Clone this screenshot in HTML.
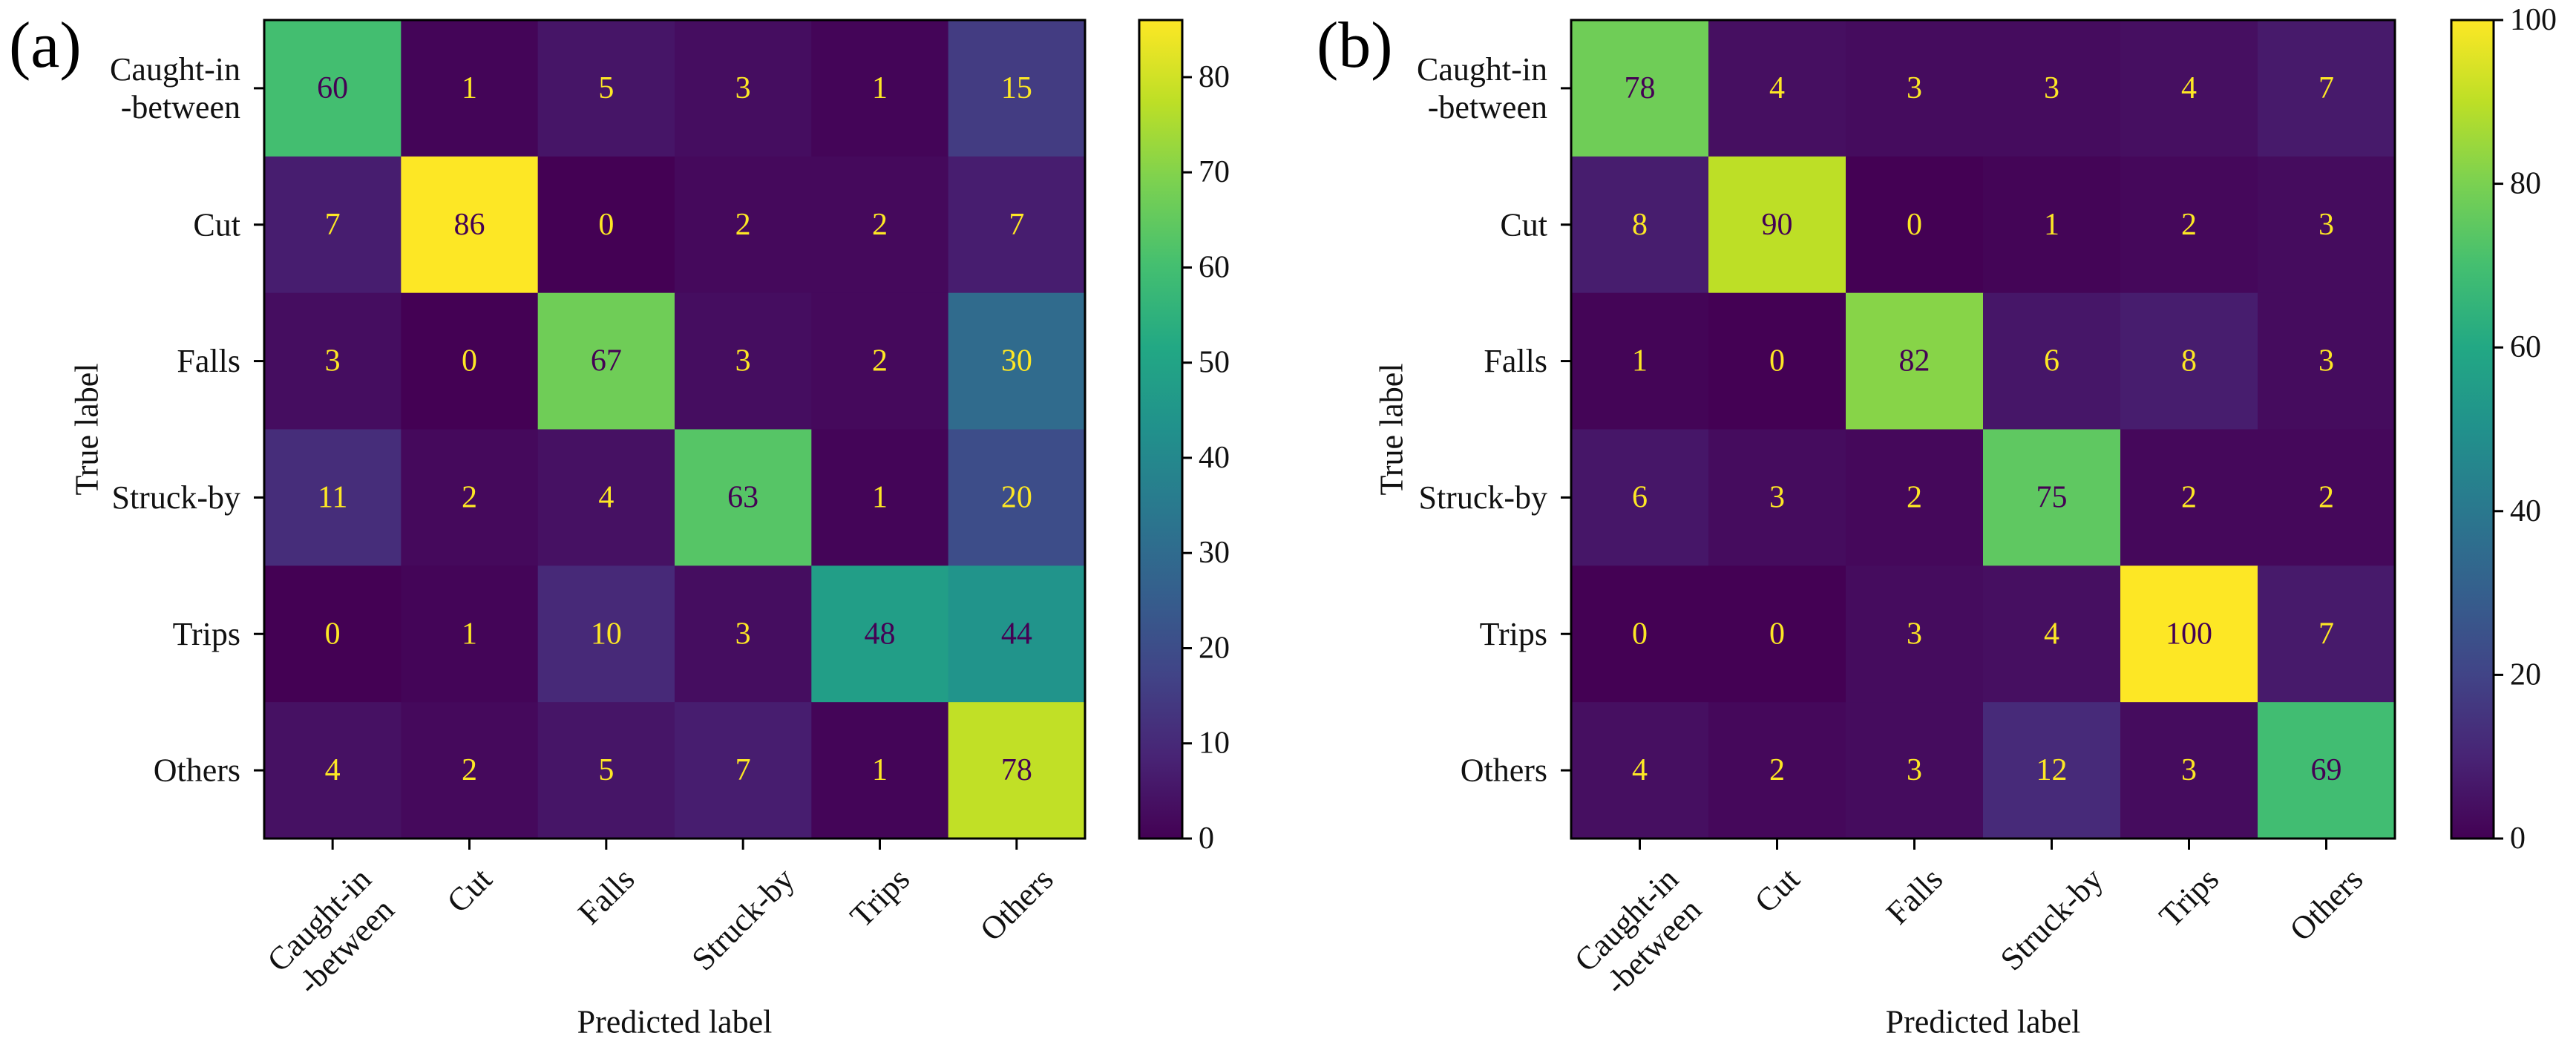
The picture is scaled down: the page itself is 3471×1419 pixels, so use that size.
<!DOCTYPE html>
<html><head><meta charset="utf-8"><style>
html,body{margin:0;padding:0;background:#fff;}
svg{display:block;}
svg text{font-family:"Liberation Serif","Times New Roman","DejaVu Serif",serif !important;}
</style></head><body>
<svg id="fig" width="3471" height="1419" viewBox="0 0 3471 1419" xmlns="http://www.w3.org/2000/svg" font-family="'Liberation Serif', serif">
<defs>
<linearGradient id="vir" x1="0" y1="1" x2="0" y2="0">
<stop offset="0" stop-color="#440154"/><stop offset="0.1" stop-color="#482475"/><stop offset="0.2" stop-color="#414487"/><stop offset="0.3" stop-color="#355f8d"/><stop offset="0.4" stop-color="#2a788e"/><stop offset="0.5" stop-color="#21918c"/><stop offset="0.6" stop-color="#22a884"/><stop offset="0.7" stop-color="#44bf70"/><stop offset="0.8" stop-color="#7ad151"/><stop offset="0.9" stop-color="#bddf26"/><stop offset="1" stop-color="#fde725"/>
</linearGradient>
</defs>
</svg>
<script>
const categories = ["Caught-in\n-between","Cut","Falls","Struck-by","Trips","Others"];
const valuesA = [[60,1,5,3,1,15],[7,86,0,2,2,7],[3,0,67,3,2,30],[11,2,4,63,1,20],[0,1,10,3,48,44],[4,2,5,7,1,78]];
const valuesB = [[78,4,3,3,4,7],[8,90,0,1,2,3],[1,0,82,6,8,3],[6,3,2,75,2,2],[0,0,3,4,100,7],[4,2,3,12,3,69]];
const colorbarTicksA = [0,10,20,30,40,50,60,70,80];
const colorbarTicksB = [0,20,40,60,80,100];

const VIR = ["#440154","#482475","#414487","#355f8d","#2a788e","#21918c","#22a884","#44bf70","#7ad151","#bddf26","#fde725"];
const FF = "'Liberation Serif', serif";
function hex(h){return [1,3,5].map(i=>parseInt(h.substr(i,2),16));}
function viridis(t){
  t=Math.max(0,Math.min(1,t));
  const p=t*10, i=Math.min(9,Math.floor(p)), f=p-i;
  const a=hex(VIR[i]), b=hex(VIR[i+1]);
  return "rgb("+a.map((v,k)=>Math.round(v+(b[k]-v)*f)).join(",")+")";
}
const NS="http://www.w3.org/2000/svg";
const svg=document.getElementById("fig");
function el(tag,attrs,parent){const e=document.createElementNS(NS,tag);for(const k in attrs)e.setAttribute(k,attrs[k]);if(tag==="text")e.setAttribute("font-family",FF);(parent||svg).appendChild(e);return e;}

function drawPanel(cfg){
  const g=el("g",{});
  
  
  const vals=cfg.values, n=categories.length;
  let vmax=0; vals.forEach(r=>r.forEach(v=>{if(v>vmax)vmax=v;}));
  const cw=(cfg.x1-cfg.x0)/n, ch=(cfg.y1-cfg.y0)/n;
  const xs=j=>cfg.x0+cw*j, ys=i=>cfg.y0+ch*i;
  for(let i=0;i<n;i++)for(let j=0;j<n;j++){
    const v=vals[i][j];
    const r=el("rect",{x:xs(j),y:ys(i),width:cw+0.6,height:ch+0.6,fill:viridis(v/vmax)},g);
    
    
    const t=el("text",{x:xs(j)+cw/2,y:ys(i)+ch/2,"text-anchor":"middle","dominant-baseline":"central","font-size":42,fill:(v>vmax/2?"#440154":"#fde725")},g);
    t.textContent=v;
    
    
  }
  el("rect",{x:cfg.x0,y:cfg.y0,width:cfg.x1-cfg.x0,height:cfg.y1-cfg.y0,fill:"none",stroke:"#000","stroke-width":3},g);
  for(let i=0;i<n;i++){
    const cy=ys(i)+ch/2;
    el("line",{x1:cfg.x0-14,x2:cfg.x0,y1:cy,y2:cy,stroke:"#000","stroke-width":3},g);
    const lines=categories[i].split("\n");
    const t=el("text",{x:cfg.ylabEnd,y:cy,"text-anchor":"end","font-size":44,fill:"#111"},g);
    
    
    lines.forEach((s,k)=>{const ts=el("tspan",{x:cfg.ylabEnd,y:cy+(k-(lines.length-1)/2)*51,"dominant-baseline":"central"},t);ts.textContent=s;});
  }
  for(let j=0;j<n;j++){
    const cx=xs(j)+cw/2;
    el("line",{x1:cx,x2:cx,y1:cfg.y1,y2:cfg.y1+15,stroke:"#000","stroke-width":3},g);
    const lines=categories[j].split("\n");
    const grp=el("g",{},g);
    
    
    const t=el("text",{x:0,y:0,"text-anchor":"middle","font-size":44,fill:"#111"},grp);
    lines.forEach((s,k)=>{const ts=el("tspan",{x:0,y:(k-(lines.length-1)/2)*51,"dominant-baseline":"central"},t);ts.textContent=s;});
    const bb=t.getBBox();
    const bw=(bb.width+bb.height)*0.7071;
    grp.setAttribute("transform","translate("+cx+","+(cfg.y1+30+bw/2)+") rotate(-45)");
  }
  const cb=el("rect",{x:cfg.cbx0,y:cfg.y0,width:cfg.cbx1-cfg.cbx0,height:cfg.y1-cfg.y0,fill:"url(#vir)",stroke:"#000","stroke-width":3},g);
  
  
  const cys=v=>cfg.y1-(cfg.y1-cfg.y0)*v/vmax;
  cfg.ticks.forEach(v=>{
    const y=cys(v);
    el("line",{x1:cfg.cbx1,x2:cfg.cbx1+13,y1:y,y2:y,stroke:"#000","stroke-width":3},g);
    const t=el("text",{x:cfg.cbx1+22,y:y,"dominant-baseline":"central","font-size":42,fill:"#111"},g);
    t.textContent=v;
    
    
  });
  const yt=el("text",{x:cfg.yTitleX,y:(cfg.y0+cfg.y1)/2,"text-anchor":"middle","dominant-baseline":"central","font-size":44,fill:"#111",transform:"rotate(-90 "+cfg.yTitleX+" "+(cfg.y0+cfg.y1)/2+")"},g);
  yt.textContent="True label";
  
  
  const xt=el("text",{x:(cfg.x0+cfg.x1)/2,y:1377,"text-anchor":"middle","dominant-baseline":"central","font-size":44,fill:"#111"},g);
  xt.textContent="Predicted label";
  
  
  const tg=el("text",{x:cfg.tagX,y:90,"font-size":88,fill:"#000"},g);
  tg.textContent=cfg.tag;
  
  
}
drawPanel({name:"panel-a",values:valuesA,ticks:colorbarTicksA,x0:356,x1:1462,y0:27,y1:1130,cbx0:1535,cbx1:1593,ylabEnd:324,yTitleX:117,tag:"(a)",tagX:12});
drawPanel({name:"panel-b",values:valuesB,ticks:colorbarTicksB,x0:2117,x1:3227,y0:27,y1:1130,cbx0:3303,cbx1:3360,ylabEnd:2085,yTitleX:1875,tag:"(b)",tagX:1774});
</script>
</body></html>
